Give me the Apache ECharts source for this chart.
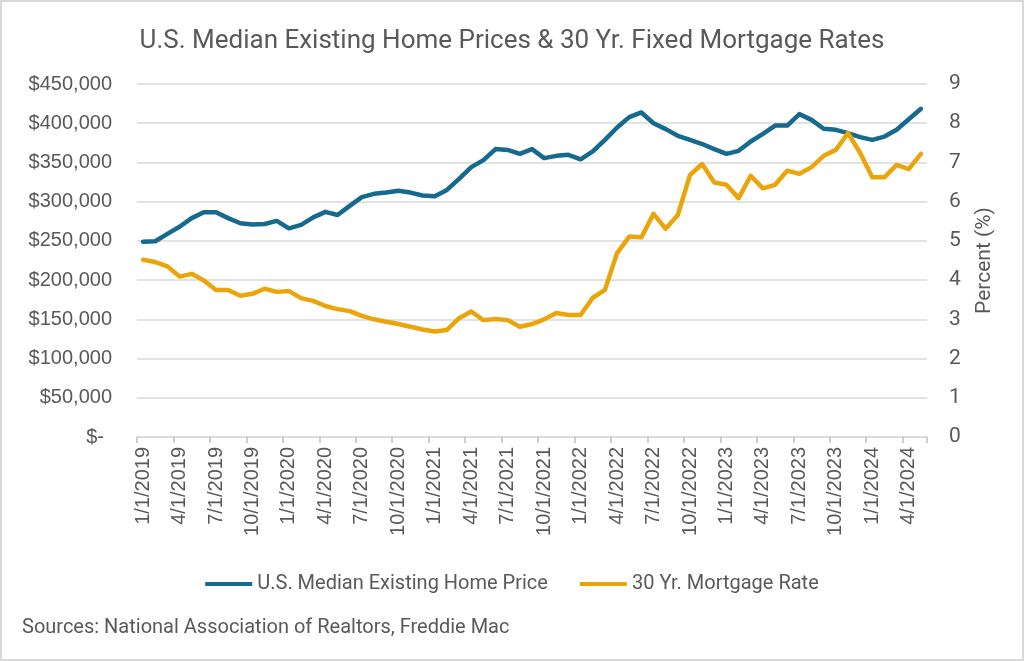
<!DOCTYPE html>
<html>
<head>
<meta charset="utf-8">
<script src="https://cdn.jsdelivr.net/npm/echarts@6/dist/echarts.min.js"></script>
<style>
html,body{margin:0;padding:0;background:#fff;}
#c{width:1024px;height:661px;}
</style>
</head>
<body>
<div id="c"></div>
<script>
var titleText = 'U.S. Median Existing Home Prices & 30 Yr. Fixed Mortgage Rates';
var sourceText = 'Sources: National Association of Realtors, Freddie Mac';
var seriesNames = ['U.S. Median Existing Home Price', '30 Yr. Mortgage Rate'];
var rateAxisName = 'Percent (%)';

var categories = [
 '1/1/2019','2/1/2019','3/1/2019','4/1/2019','5/1/2019','6/1/2019','7/1/2019','8/1/2019','9/1/2019','10/1/2019','11/1/2019','12/1/2019',
 '1/1/2020','2/1/2020','3/1/2020','4/1/2020','5/1/2020','6/1/2020','7/1/2020','8/1/2020','9/1/2020','10/1/2020','11/1/2020','12/1/2020',
 '1/1/2021','2/1/2021','3/1/2021','4/1/2021','5/1/2021','6/1/2021','7/1/2021','8/1/2021','9/1/2021','10/1/2021','11/1/2021','12/1/2021',
 '1/1/2022','2/1/2022','3/1/2022','4/1/2022','5/1/2022','6/1/2022','7/1/2022','8/1/2022','9/1/2022','10/1/2022','11/1/2022','12/1/2022',
 '1/1/2023','2/1/2023','3/1/2023','4/1/2023','5/1/2023','6/1/2023','7/1/2023','8/1/2023','9/1/2023','10/1/2023','11/1/2023','12/1/2023',
 '1/1/2024','2/1/2024','3/1/2024','4/1/2024','5/1/2024'
];

var homePrice = [
 249000,249500,259000,268000,279000,286500,286500,279000,272500,271000,271500,275500,
 266000,270400,280000,287000,283000,294600,305700,310000,311600,313800,311600,307800,
 307000,315000,329000,344000,353000,367000,366000,361000,367000,355500,358400,359700,
 354000,364000,378800,394500,407800,413700,400000,392500,384000,378800,373500,367000,
 361000,364800,376700,386500,397000,397000,411600,404300,392900,391600,387400,382300,
 378800,383000,391600,405000,418400
];

var mortgageRate = [
 4.52,4.46,4.35,4.09,4.16,3.99,3.75,3.75,3.60,3.65,3.78,3.70,
 3.72,3.54,3.47,3.34,3.26,3.21,3.09,3.00,2.94,2.88,2.81,2.74,
 2.69,2.73,3.03,3.20,2.98,3.01,2.98,2.81,2.88,3.00,3.16,3.11,
 3.11,3.55,3.75,4.69,5.11,5.09,5.69,5.31,5.66,6.68,6.96,6.49,
 6.43,6.09,6.66,6.34,6.43,6.79,6.71,6.88,7.17,7.32,7.75,7.24,
 6.62,6.62,6.94,6.83,7.22
];

var priceTicks = {min: 0, max: 450000, interval: 50000};
var rateTicks = {min: 0, max: 9, interval: 1};

var BLUE = '#156a8e';
var GOLD = '#eba50c';
var TXT = '#595959';
var GRID = '#d9d9d9';
var condensed = "'Liberation Sans Narrow','Roboto',sans-serif";

function fmtMoney(v){
  if (v === 0) return '{z|$-}';
  return '$' + String(v).replace(/\B(?=(\d{3})+(?!\d))/g, ',');
}

var chart = echarts.init(document.getElementById('c'), null, {renderer:'canvas'});
chart.setOption({
  backgroundColor: '#fff',
  animation: false,
  title: {
    text: titleText,
    left: 'center',
    top: 23,
    textStyle: {fontFamily: condensed, fontSize: 26, fontWeight: 'normal', color: TXT}
  },
  graphic: [
    {type:'rect', shape:{x:1, y:1, width:1022, height:659}, style:{fill:null, stroke:'#d9d9d9', lineWidth:2}, silent:true},
    {type:'text', left: 22, top: 618, style:{text: sourceText, fill: TXT, font: "20px Roboto, 'Noto Sans', sans-serif"}}
  ],
  legend: {
    top: 569,
    left: 'center',
    itemWidth: 47,
    itemHeight: 4,
    itemGap: 32,
    icon: 'rect',
    textStyle: {fontFamily: condensed, fontSize: 20, color: TXT},
    data: seriesNames
  },
  grid: {left: 137, right: 97, top: 84, bottom: 224, containLabel: false},
  xAxis: {
    type: 'category',
    data: categories,
    boundaryGap: true,
    axisLine: {lineStyle: {color: GRID, width: 1.5}},
    axisTick: {show: true, interval: 2, length: 6, lineStyle: {color: '#bfbfbf', width: 1.5}},
    axisLabel: {interval: 2, rotate: 90, margin: 10, color: TXT, fontSize: 20, fontFamily: "'Liberation Sans', Arial, sans-serif"}
  },
  yAxis: [
    {
      type: 'value',
      min: priceTicks.min, max: priceTicks.max, interval: priceTicks.interval,
      axisLine: {show: false}, axisTick: {show: false},
      splitLine: {lineStyle: {color: GRID, width: 1.5}},
      axisLabel: {
        formatter: fmtMoney, margin: 25, color: TXT, fontSize: 20,
        fontFamily: "'Liberation Sans', Arial, sans-serif",
        rich: {z: {fontSize: 20, color: TXT, fontFamily: "'Liberation Sans', Arial, sans-serif", padding: [0, 8, 0, 0]}}
      }
    },
    {
      type: 'value',
      min: rateTicks.min, max: rateTicks.max, interval: rateTicks.interval,
      position: 'right',
      name: rateAxisName,
      nameLocation: 'middle',
      nameRotate: 90,
      nameGap: 47,
      nameTextStyle: {color: TXT, fontSize: 21, fontFamily: "Roboto, sans-serif"},
      axisLine: {show: false}, axisTick: {show: false},
      splitLine: {show: false},
      axisLabel: {margin: 22, color: TXT, fontSize: 21, fontFamily: "Roboto, sans-serif"}
    }
  ],
  series: [
    {
      name: seriesNames[0], type: 'line', yAxisIndex: 0, data: homePrice,
      showSymbol: false, symbol: 'none',
      lineStyle: {color: BLUE, width: 4.5, join: 'round', cap: 'round'},
      itemStyle: {color: BLUE}
    },
    {
      name: seriesNames[1], type: 'line', yAxisIndex: 1, data: mortgageRate,
      showSymbol: false, symbol: 'none',
      lineStyle: {color: GOLD, width: 4.5, join: 'round', cap: 'round'},
      itemStyle: {color: GOLD}
    }
  ]
});
</script>
</body>
</html>
